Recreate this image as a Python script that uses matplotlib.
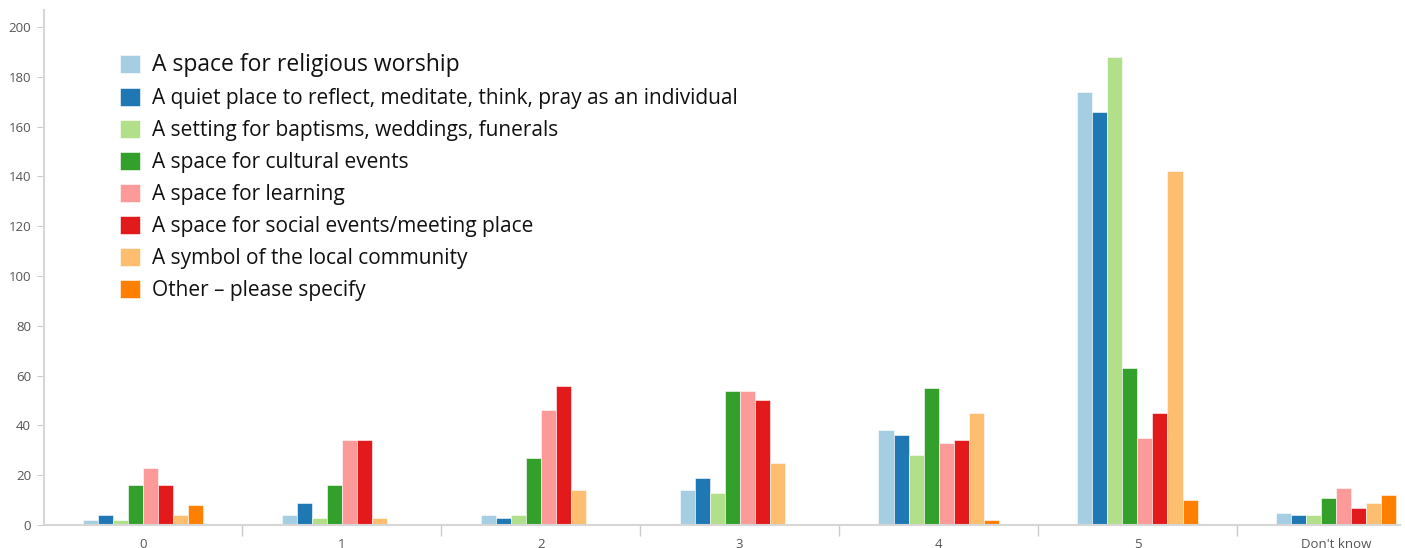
import numpy as np
import matplotlib
matplotlib.use("Agg")
import matplotlib.pyplot as plt

plt.rcParams['font.family'] = ['Open Sans', 'DejaVu Sans']

categories = ["0", "1", "2", "3", "4", "5", "Don't know"]
series_names = [
    "A space for religious worship",
    "A quiet place to reflect, meditate, think, pray as an individual",
    "A setting for baptisms, weddings, funerals",
    "A space for cultural events",
    "A space for learning",
    "A space for social events/meeting place",
    "A symbol of the local community",
    "Other \u2013 please specify",
]
religious = [2, 4, 4, 14, 38, 174, 5]
quiet = [4, 9, 3, 19, 36, 166, 4]
setting = [2, 3, 4, 13, 28, 188, 4]
cultural = [16, 16, 27, 54, 55, 63, 11]
learning = [23, 34, 46, 54, 33, 35, 15]
social = [16, 34, 56, 50, 34, 45, 7]
symbol = [4, 3, 14, 25, 45, 142, 9]
other = [8, 0, 0, 0, 2, 10, 12]
series = [religious, quiet, setting, cultural, learning, social, symbol, other]
colors = ["#a6cee3", "#1f78b4", "#b2df8a", "#33a02c",
          "#fb9a99", "#e31a1c", "#fdbf6f", "#ff7f00"]

fig = plt.figure(figsize=(14.05, 5.48), dpi=100)
ax = fig.add_axes([43.5 / 1405, 23 / 548, (1400 - 43.5) / 1405, (525 - 10) / 548])

x = np.arange(len(categories))
w = 0.0755
for i, (vals, name, c) in enumerate(zip(series, series_names, colors)):
    ax.bar(x + (i - 3.5) * w, vals, width=w, color=c, edgecolor="white",
           linewidth=0.4, label=name, zorder=2)

ax.set_xlim(-0.5, 6.32)
ax.set_ylim(0, 206.8)
ax.set_yticks(range(0, 201, 20))
ax.set_xticks(x)
ax.set_xticklabels(categories)
ax.set_xticks(np.arange(0.5, 6.5, 1), minor=True)
ax.tick_params(axis='x', which='major', length=0, pad=9, labelsize=9.5, labelcolor="#555555")
ax.tick_params(axis='x', which='minor', length=8, color="#cccccc", width=1)
ax.tick_params(axis='y', length=5, color="#cccccc", labelsize=9.5, labelcolor="#555555", pad=4)

for s in ["top", "right"]:
    ax.spines[s].set_visible(False)
for s in ["left", "bottom"]:
    ax.spines[s].set_color("#d6d6d6")
    ax.spines[s].set_linewidth(1.5)

leg = ax.legend(loc="upper left", bbox_to_anchor=(120 / 1405, 1 - 53 / 548),
                bbox_transform=fig.transFigure, frameon=False, fontsize=15,
                handlelength=0.95, handleheight=0.95, handletextpad=0.6,
                labelspacing=0.52, borderpad=0, borderaxespad=0)
leg.get_texts()[0].set_fontsize(16.5)
for t in leg.get_texts():
    t.set_color("#111111")

fig.savefig("out.png", dpi=100)
